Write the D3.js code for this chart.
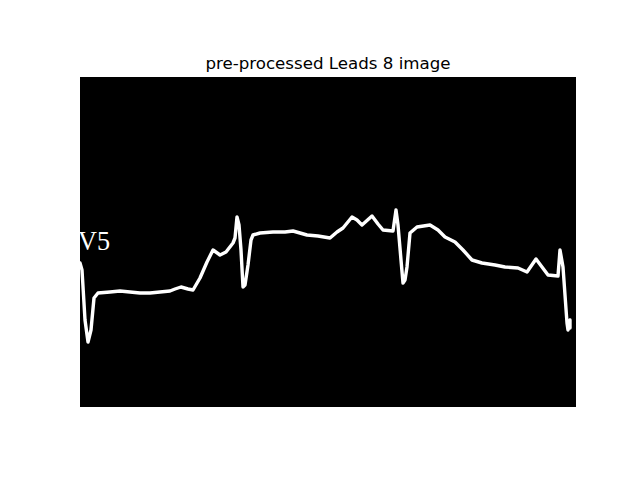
<!DOCTYPE html>
<html><head><meta charset="utf-8">
<script src="https://cdn.jsdelivr.net/npm/d3@7"></script>
<style>body{margin:0;background:#fff}svg{display:block}</style>
</head><body>
<svg id="c" width="640" height="480"></svg>
<script>
// Trace in image pixel coordinates (image is 496 x 330)
const traceX = [0,2,5,8,11,14,18,30,40,50,60,70,80,90,95,101,108,113,120,127,133,140,146,153,155,157,159,161,163,165,168,171,173,180,193,205,213,220,227,238,250,257,263,272,277,282,292,298,303,313,316,318,321,323,325,327,330,337,350,358,365,375,383,392,402,415,425,438,447,456,462,468,478,480,483,485,487,488,490,490];
const traceY = [186,193,243,265,253,221,216,215,214,215,216,216,215,214,212,210,212,213,201,185,173,178,175,166,161,140,148,173,210,208,188,163,158,156,155,155,154,156,158,159,161,155,151,140,143,148,139,147,153,154,133,148,183,206,203,190,156,150,148,153,160,165,173,183,186,188,190,191,195,182,190,198,199,173,190,218,246,253,243,251];
const imgW = 496, imgH = 330;
const title = "pre-processed Leads 8 image";
const leadLabel = "V5";

const svg = d3.select("#c");
const L = 80, T = 77, W = 496, H = 330;
const x = d3.scaleLinear().domain([0, imgW]).range([L, L + W]);
const y = d3.scaleLinear().domain([0, imgH]).range([T, T + H]);

svg.append("rect").attr("x", L).attr("y", T).attr("width", W).attr("height", H).attr("fill", "#000");

svg.append("clipPath").attr("id", "clip").append("rect").attr("x", L).attr("y", T).attr("width", W).attr("height", H);
const g = svg.append("g").attr("clip-path", "url(#clip)");

g.append("text").attr("x", x(-2)).attr("y", y(172.5)).attr("fill", "#fff")
  .attr("font-family", "Liberation Serif, serif").attr("font-size", 27)
  .attr("textLength", 32).attr("lengthAdjust", "spacingAndGlyphs").text(leadLabel);

const pts = traceX.map((d, i) => [d, traceY[i]]);
g.append("path").datum(pts)
  .attr("d", d3.line().x(d => x(d[0])).y(d => y(d[1])).curve(d3.curveLinear))
  .attr("fill", "none").attr("stroke", "#fff").attr("stroke-width", 3.4)
  .attr("stroke-linejoin", "round").attr("stroke-linecap", "round");

svg.append("text").attr("x", L + W / 2).attr("y", T - 8).attr("text-anchor", "middle")
  .attr("font-family", "DejaVu Sans, sans-serif").attr("font-size", 16.67).attr("fill", "#000").text(title);
</script>
</body></html>
